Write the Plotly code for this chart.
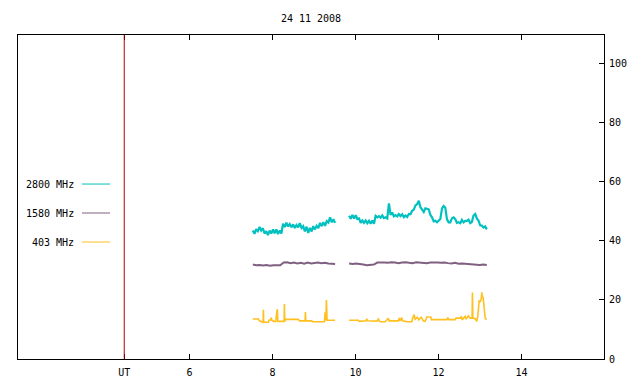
import numpy as np
import plotly.graph_objects as go

# ---- data ----
title_text = "24 11 2008"
x_tick_vals = [4.43, 6, 8, 10, 12, 14]
x_tick_text = ["UT", "6", "8", "10", "12", "14"]
y_tick_vals = [0, 20, 40, 60, 80, 100]
ut_marker = 4.43

seg1_start, seg1_end = 7.528, 9.511
seg2_start, seg2_end = 9.848, 13.166

f2800_seg1 = [43.4, 42.3, 43.9, 43.2, 44.6, 43.4, 44.2, 42.4, 43.2, 41.9, 43.4, 42.4, 43.8, 42.5,
              43.8, 42.2, 43.4, 42.4, 45.7, 44.6, 46.1, 44.8, 45.6, 44.5, 45.5, 44.3, 45.3, 44.5,
              45.9, 44.3, 44.9, 43.1, 44.7, 42.6, 44.3, 43.1, 44.9, 43.8, 45.0, 44.2, 46.0, 44.9,
              46.2, 45.0, 46.6, 46.1, 47.9, 46.2, 47.2, 46.0]
f2800_seg2 = [48.4, 47.4, 48.7, 47.5, 48.6, 47.3, 47.5, 46.0, 46.8, 46.0, 46.8, 45.9, 46.7, 45.7,
              46.8, 45.7, 48.4, 47.9, 48.3, 47.8, 48.5, 47.6, 47.9, 47.5, 52.6, 48.7, 49.5, 48.2,
              48.6, 48.2, 49.0, 48.3, 48.9, 47.9, 48.5, 48.0, 49.0, 48.9, 50.1, 50.5, 51.9, 52.3,
              53.5, 51.3, 50.5, 49.7, 50.9, 50.7, 50.6, 48.7, 47.9, 46.5, 46.7, 46.2, 46.9, 47.3,
              50.9, 51.7, 51.1, 47.2, 46.2, 46.2, 47.6, 47.9, 47.3, 46.0, 46.2, 45.9, 47.0, 46.2,
              46.7, 46.7, 47.1, 45.9, 46.3, 48.5, 49.0, 47.5, 46.8, 45.2, 45.1, 44.4, 44.8, 43.8]

f1580_seg1 = [31.9, 31.7, 31.8, 31.6, 31.8, 31.5, 31.7, 31.6, 31.7, 32.6, 32.7, 32.4, 32.6, 32.3,
              32.5, 32.2, 32.6, 32.3, 32.5, 32.6, 32.4, 32.5, 32.3, 32.2, 32.1]
f1580_seg2 = [32.3, 32.1, 32.3, 32.0, 31.9, 31.7, 31.8, 31.9, 32.6, 32.7, 32.6, 32.5, 32.7, 32.6,
              32.4, 32.6, 32.7, 32.5, 32.4, 32.7, 32.6, 32.5, 32.4, 32.6, 32.7, 32.6, 32.5, 32.6,
              32.4, 32.3, 32.5, 32.2, 32.3, 32.2, 32.0, 32.1, 31.9, 31.8, 31.9, 31.8]

f403_seg1_t = [7.528, 7.663, 7.687, 7.745, 7.776, 7.783, 7.79, 7.904, 7.92, 7.96, 7.969, 7.985,
               8.024, 8.082, 8.089, 8.106, 8.12, 8.13, 8.282, 8.289, 8.299, 8.323, 8.627, 8.651,
               8.788, 8.795, 8.805, 8.949, 8.964, 9.253, 9.27, 9.287, 9.301, 9.318, 9.511]
f403_seg1_v = [13.5, 13.5, 12.9, 12.4, 12.4, 16.6, 12.4, 12.4, 13.2, 13.2, 14.0, 13.2,
               12.7, 12.7, 15.9, 15.9, 16.8, 12.7, 12.7, 18.6, 12.8, 13.4, 13.4, 12.9,
               12.9, 15.9, 12.9, 12.9, 12.6, 12.6, 15.8, 13.0, 19.9, 13.1, 13.1]
f403_seg2_t = [9.848, 10.072, 10.089, 10.234, 10.258, 10.274, 10.289, 10.515, 10.554, 10.578,
               10.595, 10.716, 10.795, 10.812, 11.036, 11.06, 11.077, 11.118, 11.133, 11.263,
               11.359, 11.374, 11.414, 11.439, 11.494, 11.528, 11.583, 11.614, 11.639, 11.68,
               11.72, 11.817, 11.831, 12.202, 12.226, 12.25, 12.402, 12.426, 12.54, 12.554,
               12.571, 12.643, 12.667, 12.723, 12.764, 12.812, 12.82, 12.829, 12.884, 12.925,
               12.95, 12.964, 12.981, 13.005, 13.029, 13.046, 13.06, 13.077, 13.094, 13.109,
               13.125, 13.142, 13.166]
f403_seg2_v = [13.1, 13.1, 12.7, 12.7, 12.9, 13.6, 12.9, 12.8, 13.5, 12.8,
               12.6, 12.6, 13.8, 12.9, 12.9, 13.9, 12.9, 14.0, 12.9, 12.6,
               12.6, 13.5, 15.0, 13.4, 14.1, 13.2, 14.1, 13.5, 12.8, 12.7,
               14.2, 14.2, 13.3, 13.3, 14.0, 13.3, 13.3, 13.8, 13.8, 14.5,
               13.2, 14.4, 13.6, 14.6, 13.8, 13.8, 22.5, 13.9, 13.6, 12.7,
               14.5, 16.8, 19.6, 19.4, 20.0, 22.5, 20.8, 21.0, 17.5, 16.0,
               14.0, 13.5, 13.4]

series_names = ["2800 MHz", "1580 MHz", "403 MHz"]
series_colors = ["#00c0c0", "#806080", "#ffc020"]


def join(t1, v1, t2, v2):
    return list(t1) + [None] + list(t2), list(v1) + [None] + list(v2)


t2800, v2800 = join(np.linspace(seg1_start, seg1_end, len(f2800_seg1)), f2800_seg1,
                    np.linspace(seg2_start, seg2_end, len(f2800_seg2)), f2800_seg2)
t1580, v1580 = join(np.linspace(seg1_start, seg1_end, len(f1580_seg1)), f1580_seg1,
                    np.linspace(seg2_start, seg2_end, len(f1580_seg2)), f1580_seg2)
t403, v403 = join(f403_seg1_t, f403_seg1_v, f403_seg2_t, f403_seg2_v)

FONT = "DejaVu Sans Mono"

fig = go.Figure()
for (t, v), name, col, w in zip([(t2800, v2800), (t1580, v1580), (t403, v403)],
                                series_names, series_colors, [2.2, 2.0, 1.6]):
    fig.add_trace(go.Scatter(x=t, y=v, mode="lines", name=name,
                             line=dict(color=col, width=w), connectgaps=False,
                             showlegend=False, hoverinfo="skip"))

# UT marker line
fig.add_shape(type="line", xref="x", yref="paper", x0=ut_marker, x1=ut_marker, y0=0, y1=1,
              line=dict(color="#b00000", width=1))

# legend (text left, line sample right)
leg_y = [0.540, 0.4506, 0.361]
for name, col, yy in zip(series_names, series_colors, leg_y):
    fig.add_annotation(xref="paper", yref="paper", x=0.099, y=yy, text=name,
                       showarrow=False, xanchor="right", yanchor="middle",
                       font=dict(family=FONT, size=10, color="black"))
    fig.add_shape(type="line", xref="paper", yref="paper", x0=0.1092, x1=0.157,
                  y0=yy, y1=yy, line=dict(color=col, width=1))

W, H = 640, 384
fig.update_layout(
    width=W, height=H,
    margin=dict(l=18, r=36, t=35, b=25, autoexpand=False),
    paper_bgcolor="white", plot_bgcolor="white",
    font=dict(family=FONT, size=10, color="black"),
    title=dict(text=title_text, x=0.486, xanchor="center", y=1 - 18 / H, yanchor="middle",
               font=dict(family=FONT, size=10, color="black")),
    showlegend=False,
)
fig.update_xaxes(range=[1.87, 15.99], tickvals=x_tick_vals, ticktext=x_tick_text,
                 ticks="inside", ticklen=5, tickcolor="black", showgrid=False, zeroline=False,
                 showline=True, linecolor="black", linewidth=1, mirror="ticks",
                 ticklabelstandoff=4, automargin=False)
fig.update_yaxes(range=[0, 109.5], tickvals=y_tick_vals, side="right",
                 ticks="inside", ticklen=5, tickcolor="black", showgrid=False, zeroline=False,
                 showline=True, linecolor="black", linewidth=1, mirror=True,
                 ticklabelstandoff=2, automargin=False)

# pin the figure to the window's top-left corner, page exactly 640x384
page_css = ("var css='margin:0;padding:0;overflow:hidden;width:640px;height:384px';"
            "document.documentElement.style.cssText=css;document.body.style.cssText=css;"
            "var gd=document.getElementById('{plot_id}');"
            "gd.style.position='fixed';gd.style.left='0px';gd.style.top='0px';")
fig.write_html("out.html", config={"displayModeBar": False}, post_script=page_css)
